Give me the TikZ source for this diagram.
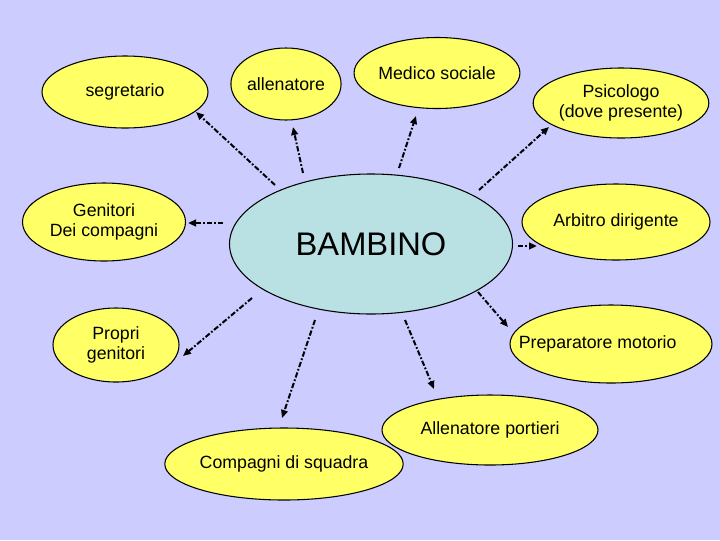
\documentclass[tikz,border=0pt]{standalone}
\usepackage{fontspec}
\setmainfont{Liberation Sans}
\usetikzlibrary{shapes.geometric,arrows.meta}
\definecolor{bg}{RGB}{204,204,255}
\definecolor{yel}{RGB}{255,255,102}
\definecolor{cyanfill}{RGB}{185,225,227}
\tikzset{
  bub/.style 2 args={ellipse, draw=black, line width=0.8pt, fill=yel, inner sep=0pt,
     minimum width=#1*0.75pt, minimum height=#2*0.75pt, align=center,
     font=\fontsize{13.3pt}{15pt}\selectfont},
  arr/.style={line width=1.5pt, dash pattern=on 4pt off 1.5pt on 1.3pt off 1.5pt,
     -{Triangle[length=6pt,width=5pt]}}
}
\begin{document}
\begin{tikzpicture}[x=0.75pt,y=-0.75pt]
\useasboundingbox (0,0) rectangle (720,540);
\fill[bg] (0,0) rectangle (720,540);
% nodes
\node[bub={166}{72}] (seg) at (125,92) {segretario};
\node[bub={102}{72}] (all) at (286,84) {allenatore};
\node[bub={153}{71}] (med) at (437,73) {Medico sociale};
\node[bub={172}{70}] (psi) at (621,103) {Psicologo\\(dove presente)};
\node[bub={163}{78}] (gen) at (104,222) {Genitori\\Dei compagni};
\node[bub={283}{140}, fill=cyanfill, font=\fontsize{24.5pt}{28pt}\selectfont] (bam) at (371,244) {BAMBINO};
\node[bub={188}{76}] (arb) at (616,222) {Arbitro dirigente};
\node[bub={126}{74}] (pro) at (116,345) {Propri\\genitori};
\node[bub={202}{78}] (prep) at (611,344) {\hspace*{-20pt}Preparatore motorio};
\node[bub={216}{70}] (port) at (490,430) {Allenatore portieri};
\node[bub={198}{72}] (comp) at (284,464) {Compagni di squadra};
% arrow ends
\coordinate (t1) at (275,185); \coordinate (h1) at (196,112);
\coordinate (t2) at (303,173); \coordinate (h2) at (293,127);
\coordinate (t3) at (399,168); \coordinate (h3) at (416,116);
\coordinate (t4) at (479,190); \coordinate (h4) at (549,127);
\coordinate (t5) at (223,223); \coordinate (h5) at (188,223);
\coordinate (t6) at (518,246); \coordinate (h6) at (537,246);
\coordinate (t7) at (478,292); \coordinate (h7) at (508,327);
\coordinate (t8) at (252,298); \coordinate (h8) at (183,356);
\coordinate (t9) at (315,320); \coordinate (h9) at (282,418);
\coordinate (t10) at (405,320); \coordinate (h10) at (434,389);
\foreach \i in {1,...,10} { \draw[arr] (t\i) -- (h\i); }
\end{tikzpicture}
\end{document}
